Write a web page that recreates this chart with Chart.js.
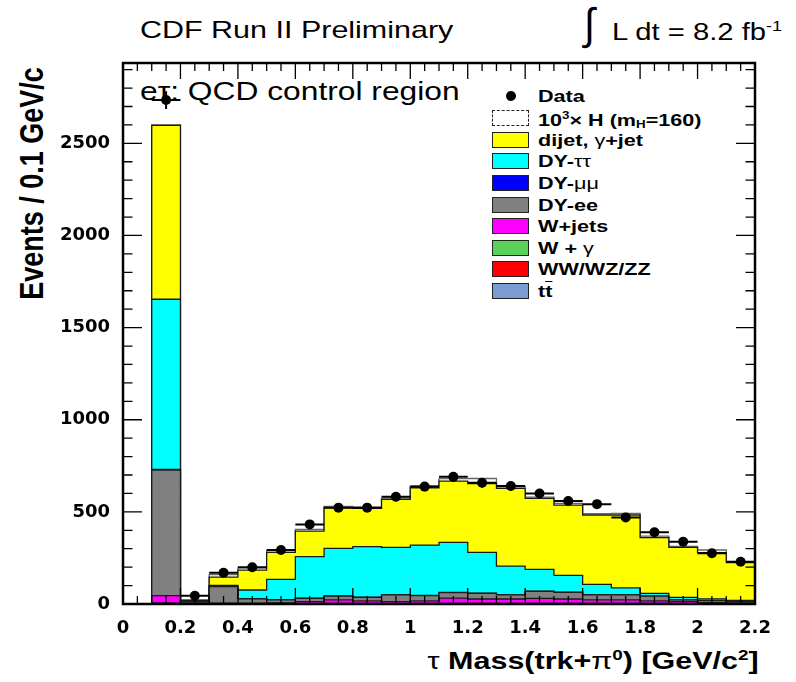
<!DOCTYPE html>
<html>
<head>
<meta charset="utf-8">
<title>tau mass, QCD control region</title>
<script src="https://cdn.jsdelivr.net/npm/chart.js@4.4.1/dist/chart.umd.min.js"></script>
<style>
  html, body { margin: 0; padding: 0; background: #fff; }
  #wrap { position: relative; width: 796px; height: 682px; overflow: hidden; }
  #plot { position: absolute; left: 0; top: 0; }
  .txt {
    position: absolute; white-space: nowrap; line-height: 1; color: #000;
    font-family: "Liberation Sans", Arial, Helvetica, sans-serif;
    transform-origin: left center; transform: scaleX(1.27);
  }
  .bold { font-weight: bold; }
  .greek { font-weight: normal; }
  .sup { font-size: 62%; vertical-align: 0.62em; }
  .sub { font-size: 62%; vertical-align: -0.25em; }
  .legbox { position: absolute; left: 492px; width: 35px; height: 14px; border: 1.5px solid #222; }
  .legdot { position: absolute; left: 506px; width: 10px; height: 10px; border-radius: 50%; background: #000; }
</style>
</head>
<body>
<div id="wrap">
  <div class="txt" style="left:140px; top:18px; font-size:24px;">CDF Run II Preliminary</div>
  <div class="txt" style="left:584px; top:2px; font-size:44px; transform:scaleX(0.9);">&#8747;</div>
  <div class="txt" style="left:612px; top:19px; font-size:23px;">L dt = 8.2 fb<span class="sup">-1</span></div>

  <div class="txt bold" style="left:-87px; top:170px; width:240px; text-align:center; font-size:27px; transform-origin:center center; transform:rotate(-90deg) scaleY(1.22);">Events / 0.1 GeV/c</div>

  <div class="txt bold" style="right:37px; top:648px; font-size:24px; transform-origin:right center;"><span class="greek">τ</span> Mass(trk+<span class="greek">π</span><span class="sup">0</span>) [GeV/c<span class="sup">2</span>]</div>

  <div class="txt" style="left:140px; top:79px; font-size:25px;">e<span>τ</span>: QCD control region</div>

  <!-- legend -->
  <div class="legdot" style="top:91px;"></div>
  <div class="legbox" style="top:110px; border-style:dashed; background:#fff;"></div>
  <div class="legbox" style="top:132px; background:#ffff00;"></div>
  <div class="legbox" style="top:153px; background:#00ffff;"></div>
  <div class="legbox" style="top:175px; background:#0000ff;"></div>
  <div class="legbox" style="top:197px; background:#808080;"></div>
  <div class="legbox" style="top:218px; background:#ff00ff;"></div>
  <div class="legbox" style="top:240px; background:#5ad25a;"></div>
  <div class="legbox" style="top:261px; background:#ff0000;"></div>
  <div class="legbox" style="top:283px; background:#7b9bd3;"></div>

  <div class="txt bold" style="left:538px; top:88px; font-size:17px;">Data</div>
  <div class="txt bold" style="left:538px; top:110px; font-size:17px;">10<span class="sup">3</span>× H (m<span class="sub">H</span>=160)</div>
  <div class="txt bold" style="left:538px; top:132px; font-size:17px;">dijet, <span class="greek">γ</span>+jet</div>
  <div class="txt bold" style="left:538px; top:153px; font-size:17px;">DY-<span class="greek">ττ</span></div>
  <div class="txt bold" style="left:538px; top:175px; font-size:17px;">DY-<span class="greek">μμ</span></div>
  <div class="txt bold" style="left:538px; top:197px; font-size:17px;">DY-ee</div>
  <div class="txt bold" style="left:538px; top:218px; font-size:17px;">W+jets</div>
  <div class="txt bold" style="left:538px; top:240px; font-size:17px;">W + <span class="greek">γ</span></div>
  <div class="txt bold" style="left:538px; top:261px; font-size:17px;">WW/WZ/ZZ</div>
  <div class="txt bold" style="left:538px; top:283px; font-size:17px;">t<span style="text-decoration:overline;">t</span></div>

  <canvas id="plot" width="796" height="682"></canvas>
</div>

<script>
// lower edges of the 0.1 GeV/c^2 bins
const binLow = [0.0, 0.1, 0.2, 0.3, 0.4, 0.5, 0.6, 0.7, 0.8, 0.9, 1.0,
                1.1, 1.2, 1.3, 1.4, 1.5, 1.6, 1.7, 1.8, 1.9, 2.0, 2.1];
const binWidth = 0.1;
const xMax = 2.2;
const yMax = 2936;

// expected events per bin, stacked from the bottom up
const ttbar      = [0, 1, 0, 0, 0, 1, 1, 1, 1, 1, 1, 1, 1, 1, 1, 1, 1, 1, 1, 0, 0, 0];
const diboson    = [0, 2, 0, 1, 1, 1, 1, 1, 1, 1, 1, 1, 1, 1, 1, 1, 1, 1, 1, 1, 1, 1];
const wGamma     = [0, 2, 1, 1, 1, 1, 1, 1, 1, 1, 1, 1, 1, 1, 1, 1, 1, 1, 1, 1, 1, 1];
const wJets      = [0, 40, 3, 2, 2, 3, 10, 19, 14, 10, 14, 29, 24, 24, 28, 24, 19, 19, 14, 11, 6, 4];
const dyEE       = [0, 682, 8, 90, 24, 16, 18, 21, 19, 36, 28, 30, 31, 22, 38, 36, 28, 27, 26, 9, 10, 8];
const dyMuMu     = [0, 3, 0, 1, 1, 1, 1, 1, 1, 1, 1, 1, 1, 1, 1, 1, 1, 1, 1, 1, 1, 0];
const dyTauTau   = [0, 924, 2, 6, 47, 111, 225, 258, 274, 257, 274, 271, 221, 156, 118, 91, 56, 38, 14, 13, 9, 6];
const dijet      = [0, 943, 6, 45, 108, 146, 139, 221, 208, 261, 311, 333, 374, 421, 385, 382, 376, 395, 302, 271, 251, 204];
const higgsX1000 = [0, 3, 2, 14, 12, 10, 9, 7, 6, 7, 9, 13, 27, 9, 7, 9, 7, 9, 8, 5, 14, 5];

// observed counts and their errors
const dataCounts = [null, 2735, 45, 170, 199, 293, 432, 523, 523, 582, 637, 690, 658, 640, 600, 559, 542, 470, 389, 338, 275, 229];
const dataErrors = [0, 48, 7, 13, 14, 17, 21, 23, 23, 24, 25, 26, 26, 25, 24, 24, 23, 22, 20, 18, 17, 15];

const xTicks = [0, 0.2, 0.4, 0.6, 0.8, 1, 1.2, 1.4, 1.6, 1.8, 2, 2.2];
const yTicks = [0, 500, 1000, 1500, 2000, 2500];

const components = [
    { label: 'ttbar',        values: ttbar,      color: '#7b9bd3' },
    { label: 'WW/WZ/ZZ',     values: diboson,    color: '#ff0000' },
    { label: 'W + gamma',    values: wGamma,     color: '#5ad25a' },
    { label: 'W+jets',       values: wJets,      color: '#ff00ff' },
    { label: 'DY-ee',        values: dyEE,       color: '#808080' },
    { label: 'DY-mumu',      values: dyMuMu,     color: '#0000ff' },
    { label: 'DY-tautau',    values: dyTauTau,   color: '#00ffff' },
    { label: 'dijet',        values: dijet,      color: '#ffff00' },
    { label: 'H x 1000',     values: higgsX1000, color: '#ffffff' }
];

// histogram as a step line: one point per lower edge plus the upper end
function steps(values) {
    const pts = binLow.map((x, i) => ({ x: x, y: values[i] }));
    pts.push({ x: xMax, y: values[values.length - 1] });
    return pts;
}

const datasets = [{
    label: 'Data',
    data: binLow.map((x, i) => ({ x: x + binWidth / 2, y: dataCounts[i] })).filter(p => p.y !== null),
    stack: 'observed',
    showLine: false,
    pointRadius: 5,
    pointBackgroundColor: '#000',
    pointBorderColor: '#000',
    pointBorderWidth: 0
}];

components.forEach((c, k) => {
    const idx = k + 1;
    datasets.push({
        label: c.label,
        data: steps(c.values),
        stepped: true,
        fill: k === 0 ? 'origin' : idx - 1,
        backgroundColor: c.color,
        borderColor: c.label === 'H x 1000' ? '#666' : '#1a1a1a',
        borderWidth: 1.3,
        pointRadius: 0
    });
});

// data error bars: full bin width horizontally, +-error vertically
const errorBars = {
    id: 'errorBars',
    afterDatasetsDraw(chart) {
        const { ctx, scales: { x, y } } = chart;
        ctx.save();
        ctx.strokeStyle = '#000';
        ctx.lineWidth = 2;
        ctx.beginPath();
        dataCounts.forEach((n, i) => {
            if (n === null) return;
            const cx = x.getPixelForValue(binLow[i] + binWidth / 2);
            const cy = y.getPixelForValue(n);
            ctx.moveTo(x.getPixelForValue(binLow[i]), cy);
            ctx.lineTo(x.getPixelForValue(binLow[i] + binWidth), cy);
            ctx.moveTo(cx, y.getPixelForValue(n - dataErrors[i]));
            ctx.lineTo(cx, y.getPixelForValue(n + dataErrors[i]));
        });
        ctx.stroke();
        ctx.restore();
    }
};

// frame with inward ticks on all four sides
const frame = {
    id: 'frame',
    afterDraw(chart) {
        const { ctx, chartArea: a, scales: { x, y } } = chart;
        ctx.save();
        ctx.strokeStyle = '#000';
        ctx.lineWidth = 1.3;
        ctx.beginPath();
        for (let k = 0; k <= 44; k++) {
            const px = x.getPixelForValue(k * 0.05);
            const len = k % 4 === 0 ? 16 : 8;
            ctx.moveTo(px, a.bottom); ctx.lineTo(px, a.bottom - len);
            ctx.moveTo(px, a.top);    ctx.lineTo(px, a.top + len);
        }
        for (let v = 0; v <= yMax; v += 100) {
            const py = y.getPixelForValue(v);
            const len = v % 500 === 0 ? 19 : 9.5;
            ctx.moveTo(a.left, py);  ctx.lineTo(a.left + len, py);
            ctx.moveTo(a.right, py); ctx.lineTo(a.right - len, py);
        }
        ctx.stroke();
        ctx.lineWidth = 2.5;
        ctx.strokeRect(a.left, a.top, a.right - a.left, a.bottom - a.top);
        ctx.restore();
    }
};

const tickFont = { family: '"DejaVu Sans", sans-serif', size: 18, weight: 'bold' };

new Chart(document.getElementById('plot'), {
    type: 'line',
    data: { datasets: datasets },
    plugins: [errorBars, frame],
    options: {
        responsive: false,
        animation: false,
        layout: { padding: { left: 0, right: 41, top: 63, bottom: 0 } },
        plugins: { legend: { display: false }, tooltip: { enabled: false } },
        elements: { line: { tension: 0 } },
        scales: {
            x: {
                type: 'linear', min: 0, max: xMax,
                grid: { display: false }, border: { display: false },
                afterBuildTicks: s => { s.ticks = xTicks.map(v => ({ value: v })); },
                afterFit: s => { s.height = 78; },
                ticks: { color: '#000', font: tickFont, padding: 6, maxRotation: 0, autoSkip: false,
                         callback: v => String(v) }
            },
            y: {
                stacked: true, min: 0, max: yMax,
                grid: { display: false }, border: { display: false },
                afterBuildTicks: s => { s.ticks = yTicks.map(v => ({ value: v })); },
                afterFit: s => { s.width = 123; },
                ticks: { color: '#000', font: tickFont, padding: 5, callback: v => String(v) }
            }
        }
    }
});
</script>
</body>
</html>
